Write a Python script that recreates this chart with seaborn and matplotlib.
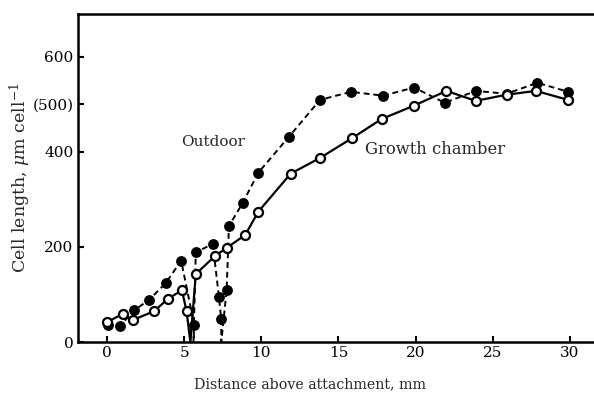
import matplotlib
matplotlib.use("Agg")
import matplotlib.pyplot as plt
import seaborn as sns
import pandas as pd
import numpy as np

# ---- data ----
outdoor_x = [0.05, 0.85, 1.75, 2.7, 3.8, 4.8, 5.65, 5.6, 5.75, 6.85, 7.25, 7.4, 7.4, 7.75,
             7.9, 8.8, 9.8, 11.8, 13.8, 15.8, 17.9, 19.9, 21.9, 23.9, 25.9, 27.9, 29.9]
outdoor_y = [36, 34, 67, 88, 124, 171, 36, 0, 189, 206, 95, 48, 0, 109,
             244, 293, 356, 432, 509, 526, 518, 535, 503, 528, 522, 545, 526]

growth_x = [0.0, 1.0, 1.65, 3.05, 3.95, 4.85, 5.15, 5.4, 5.75, 7.0, 7.75, 8.95, 9.8,
            11.9, 13.8, 15.9, 17.8, 19.9, 22.0, 23.9, 25.9, 27.8, 29.9]
growth_y = [42, 59, 46, 65, 91, 109, 65, 0, 143, 181, 198, 225, 274,
            354, 387, 429, 469, 497, 528, 507, 520, 528, 509]

x_ticks = [0, 5, 10, 15, 20, 25, 30]
y_ticks = [0, 200, 400, 500, 600]
y_tick_labels = ["0", "200", "400", "(500)", "600"]

sns.set_style("ticks")
plt.rcParams['font.family'] = ['DejaVu Serif', 'Liberation Serif']
plt.rcParams['mathtext.fontset'] = 'dejavuserif'

outdoor = pd.DataFrame({"x": outdoor_x, "y": outdoor_y})
growth = pd.DataFrame({"x": growth_x, "y": growth_y})

fig = plt.figure(figsize=(5.94, 3.95), dpi=100)
ax = fig.add_axes([0.131, 0.134, 0.875, 0.831])

# lines
sns.lineplot(data=outdoor, x="x", y="y", sort=False, estimator=None, ax=ax,
             color="black", linewidth=1.4, linestyle=(0, (3.0, 2.0)), zorder=2)
sns.lineplot(data=growth, x="x", y="y", sort=False, estimator=None, ax=ax,
             color="black", linewidth=1.6, zorder=3)

# markers (points above zero)
od = outdoor[outdoor.y > 0]
gr = growth[growth.y > 0]
sns.scatterplot(data=od, x="x", y="y", ax=ax, color="black", s=46,
                edgecolor="black", linewidth=1.0, zorder=4)
sns.scatterplot(data=gr, x="x", y="y", ax=ax, color="white", s=42,
                edgecolor="black", linewidth=1.6, zorder=5)

ax.set_xlim(-1.9, 31.8)
ax.set_ylim(0, 690)
ax.set_xticks(x_ticks)
ax.set_yticks(y_ticks)
ax.set_yticklabels(y_tick_labels)
ax.tick_params(axis="both", direction="in", length=4, width=1.5,
               labelsize=11, pad=3, colors="black")
for s in ["left", "top", "bottom"]:
    ax.spines[s].set_linewidth(1.8)
    ax.spines[s].set_color("black")
ax.spines["right"].set_visible(False)

ax.set_xlabel("Distance above attachment, mm", fontsize=10.2, labelpad=12, x=0.446)
ax.set_ylabel(r"Cell length, $\mu$m cell$^{-1}$", fontsize=12.5, labelpad=0)

ax.text(4.8, 421, "Outdoor", fontsize=11, ha="left", va="center")
ax.text(16.75, 404, "Growth chamber", fontsize=11.8, ha="left", va="center")

fig.savefig("out.png", dpi=100)
